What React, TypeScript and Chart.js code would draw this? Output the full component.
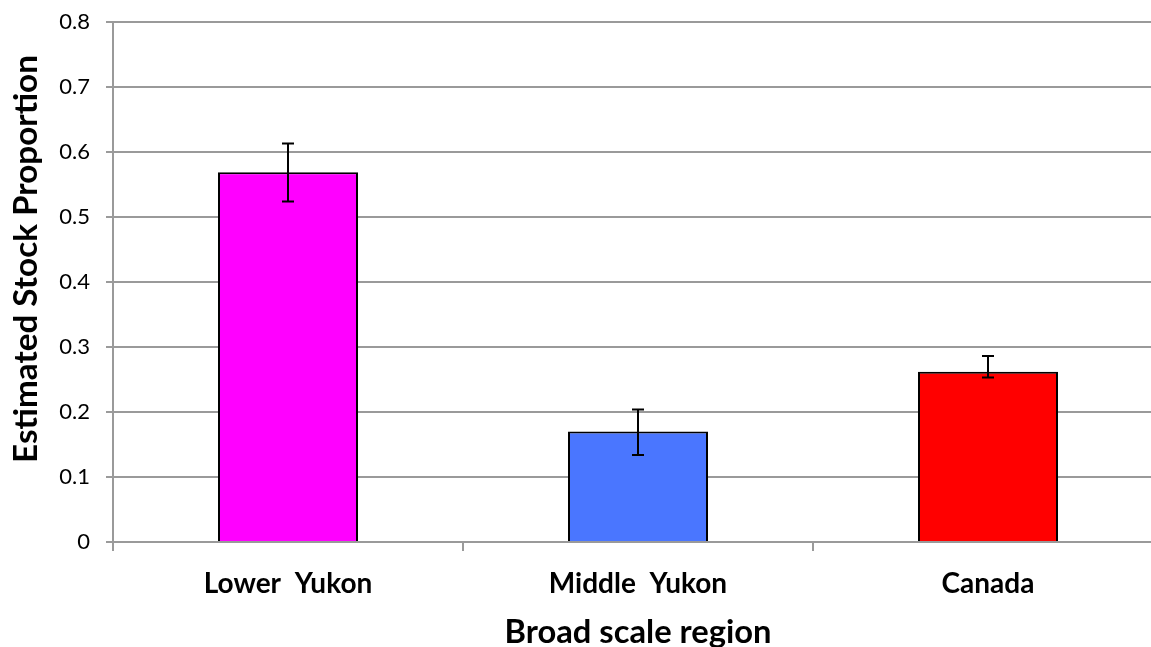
import React, { useEffect, useRef } from 'react';
import { Chart, registerables } from 'chart.js';

Chart.register(...registerables);

const categories = ['Lower  Yukon', 'Middle  Yukon', 'Canada'];
const proportions = [0.569, 0.17, 0.262];
const errorLow = [0.524, 0.134, 0.253];
const errorHigh = [0.613, 0.204, 0.286];
const barColors = ['#FF00FF', '#4A76FF', '#FF0000'];
const yTickLabels = ['0', '0.1', '0.2', '0.3', '0.4', '0.5', '0.6', '0.7', '0.8'];
const xAxisTitle = 'Broad scale region';
const yAxisTitle = 'Estimated Stock Proportion';

const FONT = 'Lato, "Open Sans", sans-serif';

function fitSize(ctx: CanvasRenderingContext2D, text: string, target: number) {
  ctx.font = `bold 100px ${FONT}`;
  const w = ctx.measureText(text).width;
  return (100 * target) / w;
}

const errorBarPlugin = {
  id: 'errorBars',
  afterDatasetsDraw(chart: any) {
    const ctx = chart.ctx;
    const meta = chart.getDatasetMeta(0);
    const y = chart.scales.y;
    ctx.save();
    ctx.strokeStyle = '#000';
    ctx.lineWidth = 2;
    meta.data.forEach((el: any, i: number) => {
      const x = Math.round(el.x);
      const yh = y.getPixelForValue(errorHigh[i]);
      const yl = y.getPixelForValue(errorLow[i]);
      ctx.beginPath();
      ctx.moveTo(x, yh);
      ctx.lineTo(x, yl);
      ctx.moveTo(x - 6, yh);
      ctx.lineTo(x + 6, yh);
      ctx.moveTo(x - 6, yl);
      ctx.lineTo(x + 6, yl);
      ctx.stroke();
    });
    ctx.restore();
  },
};

const titlePlugin = {
  id: 'axisTitles',
  afterDraw(chart: any) {
    const ctx = chart.ctx;
    const area = chart.chartArea;
    ctx.save();
    ctx.fillStyle = '#000';
    ctx.textAlign = 'center';
    ctx.textBaseline = 'alphabetic';
    const xs = fitSize(ctx, xAxisTitle, 267);
    ctx.font = `bold ${xs}px ${FONT}`;
    ctx.fillText(xAxisTitle, (area.left + area.right) / 2, 643);
    const ys = fitSize(ctx, yAxisTitle, 408);
    ctx.font = `bold ${ys}px ${FONT}`;
    ctx.translate(37, 259);
    ctx.rotate(-Math.PI / 2);
    ctx.fillText(yAxisTitle, 0, 0);
    ctx.restore();
  },
};

export default function App() {
  const ref = useRef<HTMLCanvasElement>(null);
  useEffect(() => {
    if (!ref.current) return;
    const chart = new Chart(ref.current, {
      type: 'bar',
      data: {
        labels: categories,
        datasets: [
          {
            data: proportions,
            backgroundColor: barColors,
            borderColor: '#000',
            borderWidth: 2,
            borderSkipped: 'bottom',
            categoryPercentage: 1,
            barPercentage: 0.4,
          },
        ],
      },
      options: {
        animation: false,
        responsive: false,
        devicePixelRatio: 1,
        layout: { padding: { top: 22, right: 17, left: 0, bottom: 0 } },
        plugins: { legend: { display: false }, tooltip: { enabled: false } },
        scales: {
          x: {
            offset: true,
            afterFit: (s: any) => {
              s.height = 647 - 542;
              s.paddingLeft = 0;
              s.paddingRight = 0;
            },
            grid: {
              display: true,
              drawOnChartArea: false,
              drawTicks: true,
              tickLength: 9,
              color: '#9a9a9a',
              lineWidth: 2,
              offset: true,
            },
            border: { display: true, color: '#9a9a9a', width: 2 },
            ticks: {
              color: '#000',
              padding: 16,
              font: { family: FONT, size: 28, weight: 'bold' },
            },
          },
          y: {
            min: 0,
            max: 0.8,
            afterFit: (s: any) => {
              s.width = 113;
              s.paddingTop = 0;
              s.paddingBottom = 0;
            },
            afterBuildTicks: (s: any) => {
              s.ticks = yTickLabels.map((t) => ({ value: parseFloat(t) }));
            },
            grid: {
              color: '#9a9a9a',
              lineWidth: 2,
              tickLength: 7,
            },
            border: { display: true, color: '#9a9a9a', width: 2 },
            ticks: {
              color: '#000',
              padding: 16,
              font: { family: FONT, size: 22 },
              callback: (_v: any, i: number) => yTickLabels[i],
            },
          },
        },
      },
      plugins: [errorBarPlugin, titlePlugin],
    });
    return () => chart.destroy();
  }, []);
  return (
    <div
      style={{
        position: 'fixed',
        left: 0,
        top: 0,
        width: 1151,
        height: 647,
        overflow: 'hidden',
        background: '#fff',
      }}
    >
      <canvas ref={ref} width={1180} height={647} style={{ width: 1180, height: 647, display: 'block' }} />
    </div>
  );
}
